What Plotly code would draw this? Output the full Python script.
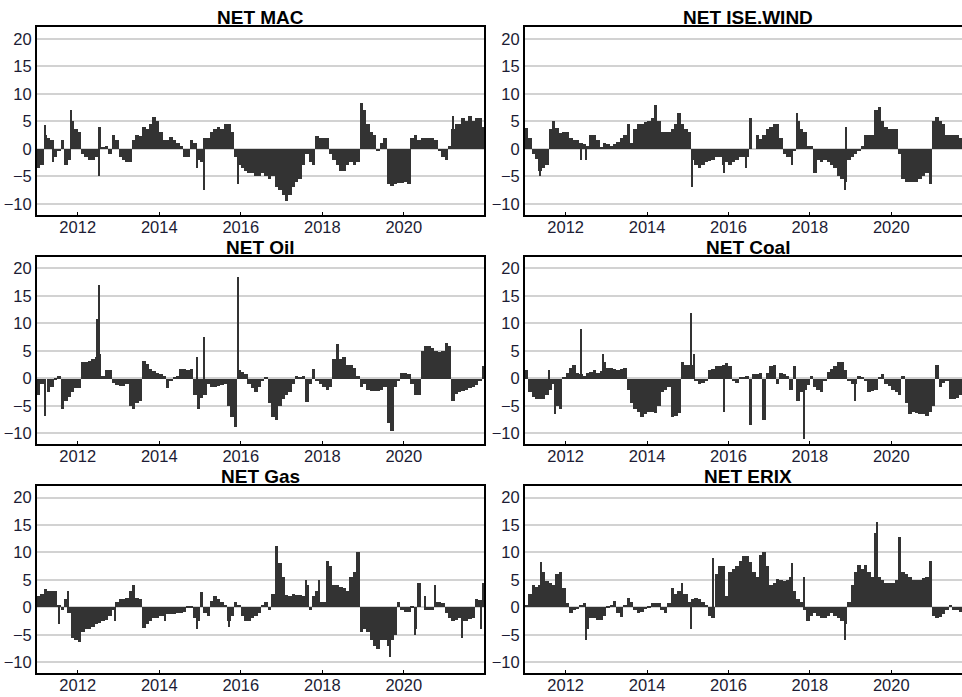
import plotly.graph_objects as go
import pandas as pd

# ---------------- data (monthly levels, Jan 2011 .. Dec 2021) ----------------
titles = ["NET MAC", "NET ISE.WIND", "NET Oil", "NET Coal", "NET Gas", "NET ERIX"]

MAC = [
    -3.5, -3, 2.5, 2, 1.5, -1.5, -0.5, 1.5, -3, -2, 5, 3.5,
    3, -1, -1.5, -2, -2, -1.5, 4, 0.3, 0.5, -1, 2.5, 1.5,
    -1.5, -2, -2.5, -2.5, 1.5, 2.5, 2.3, 4, 3.5, 4.5, 5.8, 5,
    3, 1.5, 1.5, 2.2, 1.5, 1, 0.5, -1.5, -1.5, 1.5, 1, -2,
    -2.5, 2, 2, 3, 3.5, 4, 3.5, 4.5, 4.5, 3, -1.5, -3,
    -3.5, -4, -4.5, -4.5, -5, -5, -4.5, -5, -5.5, -5, -7, -7.5,
    -8.5, -9.5, -8.5, -7, -6, -5.5, -3, -1, -2.5, -3, 2.3, 2,
    2, 2, -1, -2, -3, -4, -4, -3, -2.5, -3, -2.5, 8.3,
    7, 4.5, 3, 2.5, -0.5, 1, 2, -6.5, -6.8, -6.5, -6.3, -6.2,
    -6, -6.5, 2, 2.5, 1.5, 2, 2, 2, 2, 1.5, -0.5, -1.5,
    -2, 0.5, 3.5, 4.5, 4.5, 5.5, 5, 6, 5, 5.5, 5.5, 4,
]
WIND = [
    3.8, 2, -1, -1.8, -4, -3.5, -3, 3.5, 5, 3.8, 2.8, 3,
    3, 2, 1.5, 1.5, 1, 0.8, 0.5, 2.5, 2.5, 1.5, 0.3, 1,
    0.8, 0.5, 0.8, 1.2, 2, 2.5, 4.5, 1, 3.5, 4.5, 4.5, 4.8,
    5, 5.5, 8, 5, 3, 3, 3, 3.5, 4.5, 6.5, 4.5, 3.5,
    3, -2, -3, -3.5, -3, -2.5, -2.2, -2, -1.5, -1.5, -3, -2.5,
    -3, -2.5, -2, -1.5, -1.5, -1.5, 5.5, 0, 2.5, 1.8, 2.5, 3.5,
    4, 4.5, 4.5, 2, -1, -1.5, -1.5, -0.5, 5, 3.5, 3, 0.5,
    0.5, -4.5, -2, -2.5, -2, -2.5, -3, -3.5, -5, -5.5, -6, -2,
    -1.5, -1, -0.5, 0.5, 2.5, 2.5, 2.5, 7, 7.5, 5, 4, 3.5,
    3.5, 3.5, -1, -5.5, -6, -6, -6, -6, -5.5, -5, -4.5, -6.5,
    5, 5.8, 5, 4.5, 2.5, 2.5, 2.5, 2.5, 2, 2, 2, 2,
]
OIL = [
    -3, -1, 0, -2.5, -1.5, -0.3, 0.5, -5.5, -4, -3.3, -2.5, -1.8,
    -1.8, 3, 3, 3.2, 3.5, 4, 4.5, 0.5, 1.5, 1.5, -0.8, -1.2,
    -1.3, -1.3, -1, -5, -5.5, -4.5, -4, 3.2, 2.7, 1.8, 1.3, 1,
    0.8, 0.5, -1.8, -0.5, 0.3, 0.5, 1.8, 1.8, 1.5, 1.8, -3, -5.5,
    -3.5, -3, -1, -1.5, -1.5, -1.3, -1.2, -1, -5, -7, -8.8, 1.5,
    1.2, 0.8, -1, -1.8, -2.5, -1.5, -0.5, 0.3, -4.5, -7, -7.5, -5,
    -3.8, -3, -2.5, -1, 0.5, 0.3, 0.5, -4.3, -1, 1.8, -0.5, -1,
    -1.5, -2, -1.5, 3.5, 6.3, 3.5, 4, 2.5, 2.5, 2, 0.5, -1.5,
    -1, -2, -2.3, -2.3, -2.2, -2, -1.5, -8, -9.5, -1.5, -0.5, 1,
    1, 0.8, -1, -3, -3, 5, 6, 6, 5.5, 5, 4.8, 5,
    6.5, 6, -4, -2.8, -2.5, -2.3, -2, -1.8, -1.5, -1.2, -0.5, 2.2,
]
COAL = [
    1.5, -2.5, -3.3, -3.7, -3.8, -3.7, -3, -2, -1, -5, -5.5, 0.3,
    1, 2, 2.5, 1, 0.8, 0.5, 1, 1.2, 1.5, 1, 1.3, 3,
    2, 2, 1.8, 1.5, 1.8, 2, -2, -4.5, -5.5, -6, -7, -6.5,
    -6, -6, -6.3, -5, -2.5, -2, -1.5, -7, -6.8, -6.3, 3, 2.5,
    2.5, 2.5, -0.5, -1, -0.8, -0.5, 1.5, 1.8, 2.3, 2.3, 2.5, 2.8,
    2.2, -0.5, -0.8, 0.3, 0.3, 0.5, -8.5, 0.8, 0.8, 1, -7.5, 1,
    2.3, 2.5, -1, 1, 0.8, 0.5, -2, 2.3, -4, -2.5, -2, -1.2,
    0.5, -1.5, -2, -2.5, -0.5, 1.2, 1.8, 2.2, 3, 3, 1.5, -0.5,
    -1, -1, 0.5, 0.3, -0.5, -2.5, -2.3, -2, 0.3, 0.8, -1, -1.3,
    -2, -2.5, -3, 0.5, -4.5, -6.5, -6, -6.3, -6.5, -6.5, -6.8, -6,
    -5, 2.5, -1.5, -0.8, -0.5, -3.8, -3.8, -3.5, -3, -3, -3, -3,
]
GAS = [
    2, 2.5, 3.3, 3, 3, 3, 0.5, -0.5, 1.5, -1, -5.5, -6,
    -6.3, -4.5, -4, -4, -3.5, -3, -2.8, -2.5, -2.3, -1.5, -0.5, 1,
    1.5, 1.5, 1.8, 3, 4, 1.8, 1.5, -3.8, -3, -2.5, -2, -2,
    -1.5, -1.5, -1.2, -1.2, -1.2, -1, -1, -0.8, 0.3, 0.2, -2, -2.5,
    2.8, -1, -1.5, 1.2, 2, 1.5, 1, 0.5, -2.5, -1.5, 1, 0.5,
    -1.5, -2.5, -2.5, -2, -1.5, -1, 0.5, 1, -0.5, 2.5, 11.2, 8,
    5.5, 2.2, 2, 2.5, 2.3, 2.2, 2, 4, -0.5, 2, 3, 1,
    1, 8.5, 7.5, 4, 4, 3.8, 3.5, 3, 5.5, 6.5, 10, -4.5,
    -4, -4.5, -6, -7, -7.5, -6, -6, -7, -6, -5, 1, -0.5,
    -0.8, -0.8, 0.3, -4, 4.5, 0, -0.5, -0.5, -0.5, 1, 1, 0.8,
    -1, -2, -2.5, -2.3, -2, -2.5, -2.5, -2.2, -2, 1.5, 1.3, 4.5,
]
ERIX = [
    0.5, 2.5, 4, 3.8, 4, 6.5, 4.8, 4.5, 4, 6, 6.5, 3.5,
    0.8, -1, -0.5, -0.3, 0.5, 0.8, -4, -2, -2, -2.3, -2.3, -1.5,
    0.3, 0.5, 1.2, -1, -1.8, 0.5, 1.8, 1, -0.5, -1, -0.8, -0.3,
    0.3, 0.8, 0.8, 0.8, -0.5, -1, 0.8, 3.5, 2.5, 3, 2.5, 2.5,
    1, 1.5, 1.8, 1.5, 1, 0.5, -1.5, -2, 6, 7.5, 7.5, 2,
    6.5, 7, 7.5, 8.5, 9.3, 9.3, 8.3, 6.5, 5.5, 9.5, 10, 7.5,
    4, 4.5, 5.2, 5, 4.8, 5, 5.5, 3, 1.5, 1, -0.5, -2.5,
    -1.5, -1, -1.5, -2, -2, -1.5, -1, -1.5, -2, -2.5, -3, 1,
    4, 6.5, 7.8, 7, 7.8, 6.5, 5.5, 13.5, 5.5, 5, 4.5, 4.5,
    4.5, 5, 12.8, 6.5, 6, 5.5, 5, 5, 5, 5.3, 5.5, 8.5,
    -1.5, -2, -1.8, -1.2, -0.5, 0.5, -0.5, -0.5, -0.8, -1, -1, -1,
]

# ---------------- short single-day spikes ----------------
MAC_spike_dates = ["2011-03-14", "2011-05-28", "2011-11-04", "2012-07-10", "2014-12-06",
                   "2015-02-12", "2015-12-06", "2021-03-22", "2021-12-28"]
MAC_spike_vals = [4.3, -2.5, 7, -5, -3.5, -7.5, -6.5, 6, -2.5]

WIND_spike_dates = ["2011-05-19", "2012-05-21", "2012-07-06", "2015-02-10", "2015-11-28",
                    "2016-06-07", "2017-07-24", "2017-09-09", "2018-11-16", "2018-11-25"]
WIND_spike_vals = [-5, -2, -2, -7, -4.5, -3.5, -3, 6.5, -7.5, 4]

OIL_spike_dates = ["2011-03-17", "2012-06-27", "2012-07-09", "2014-12-06", "2015-02-11", "2015-12-06"]
OIL_spike_vals = [-6.8, 10.8, 17, 4, 7.5, 18.5]

COAL_spike_dates = ["2011-08-03", "2011-10-02", "2012-05-24", "2012-12-03", "2015-02-04",
                    "2015-03-04", "2015-11-25", "2017-11-07", "2019-02-13"]
COAL_spike_vals = [1.5, -6.5, 9, 4.5, 12, 4.5, -6, -11, -4]

GAS_spike_dates = ["2011-07-21", "2011-10-04", "2012-12-04", "2014-02-20", "2014-12-06",
                   "2015-09-16", "2017-08-11", "2017-12-04", "2019-09-01", "2020-04-12",
                   "2020-07-10", "2020-10-06", "2021-06-12", "2021-11-24"]
GAS_spike_vals = [-3, 3, -2.5, -2.5, -4, -3.5, 5, 5, -9, -5, 2, 4, -5.5, -4]

ERIX_spike_dates = ["2011-05-25", "2012-07-06", "2014-11-12", "2015-02-04", "2015-08-16",
                    "2017-07-24", "2017-11-07", "2018-11-16", "2019-09-01"]
ERIX_spike_vals = [8.3, -6, 4.5, -4, 9, 8, 5.5, -6, 15.5]

y_ticks = [-10, -5, 0, 5, 10, 15, 20]

series = [MAC, WIND, OIL, COAL, GAS, ERIX]
spikes = [(MAC_spike_dates, MAC_spike_vals), (WIND_spike_dates, WIND_spike_vals),
          (OIL_spike_dates, OIL_spike_vals), (COAL_spike_dates, COAL_spike_vals),
          (GAS_spike_dates, GAS_spike_vals), (ERIX_spike_dates, ERIX_spike_vals)]
for s in series:
    assert len(s) == 132

months = pd.date_range("2011-01-01", periods=132, freq="MS") + pd.Timedelta(days=15)

# ---------------- layout geometry ----------------
W, H = 962, 697
x_doms = [[37 / W, 484 / W], [525 / W, 1.0]]
y_doms = [[1 - 215 / H, 1 - 27.3 / H], [1 - 444.3 / H, 1 - 256.7 / H], [1 - 673.3 / H, 1 - 486 / H]]
x_ranges = [["2011-01-01", "2021-12-20"], ["2011-01-01", "2021-09-27"]]
title_x = [(37 + 484) / 2 / W, (525 + 971) / 2 / W]

BAR = "#333333"
DAY = 86400000
FONT = "Liberation Sans, Arial, sans-serif"
fig = go.Figure()
layout = dict(width=W, height=H, margin=dict(l=0, r=0, t=0, b=0),
              paper_bgcolor="white", plot_bgcolor="white", showlegend=False,
              barmode="overlay", bargap=0, annotations=[])
tickfont = dict(family=FONT, size=16.5, color="#1c1c34")

for i, (title, vals) in enumerate(zip(titles, series)):
    row, col = i // 2, i % 2
    n = "" if i == 0 else str(i + 1)
    fig.add_trace(go.Bar(x=months, y=vals, width=[31 * DAY] * len(vals),
                         marker=dict(color=BAR, line=dict(width=0)),
                         xaxis="x" + n, yaxis="y" + n))
    sd, sv = spikes[i]
    fig.add_trace(go.Bar(x=pd.to_datetime(sd), y=sv, width=[14 * DAY] * len(sv),
                         marker=dict(color=BAR, line=dict(width=0)),
                         xaxis="x" + n, yaxis="y" + n))
    layout["xaxis" + n] = dict(domain=x_doms[col], anchor="y" + n, type="date",
                               range=x_ranges[col], tick0="2012-01-01", dtick="M24",
                               tickformat="%Y", ticks="inside", ticklen=3, tickcolor="black",
                               tickwidth=1, showgrid=False, showline=True, linecolor="black",
                               linewidth=2, mirror=True, tickfont=tickfont, zeroline=False,
                               ticklabelstandoff=-4)
    layout["yaxis" + n] = dict(domain=y_doms[row], anchor="x" + n, range=[-12, 22.1],
                               tickvals=y_ticks, ticks="", showgrid=True,
                               gridcolor="#d2d2d2", gridwidth=1.5,
                               zeroline=False, showline=True, linecolor="black", linewidth=2,
                               mirror=(col == 0), tickfont=tickfont)
    layout["annotations"].append(dict(
        text="<b>" + title + "</b>", xref="paper", yref="paper",
        x=title_x[col], y=y_doms[row][1], xanchor="center", yanchor="bottom",
        yshift=-3, showarrow=False,
        font=dict(family=FONT, size=19, color="black")))

fig.update_layout(**layout)
fig.write_html("out.html")
